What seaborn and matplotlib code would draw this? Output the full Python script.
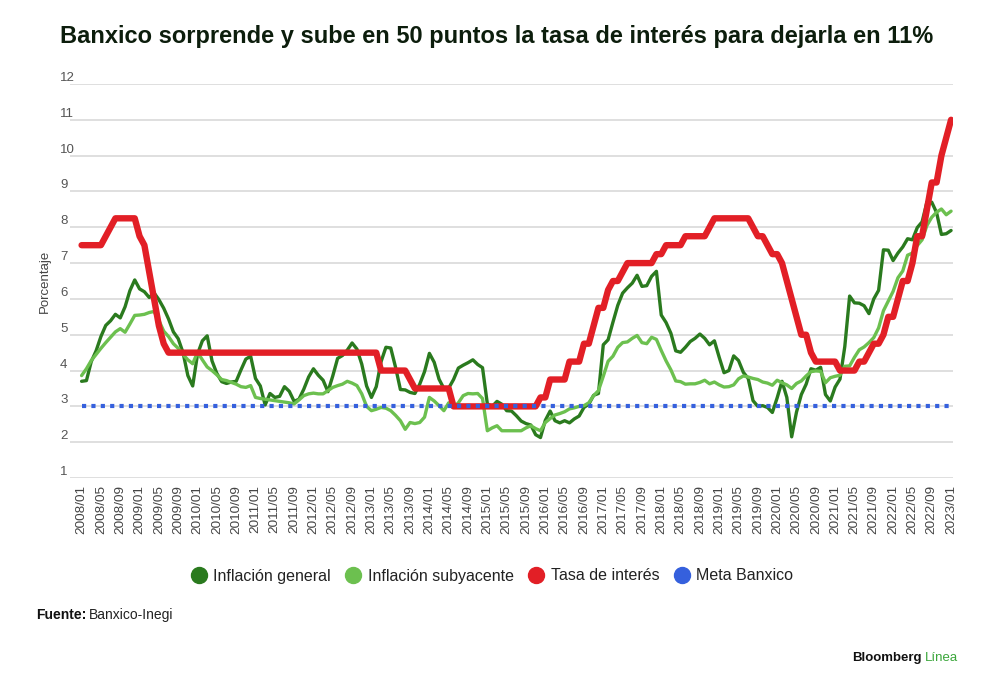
import numpy as np
import pandas as pd
import matplotlib
matplotlib.use("Agg")
import matplotlib.pyplot as plt
import seaborn as sns
from matplotlib.lines import Line2D

# ---------------- data ----------------
months = pd.date_range("2008-01-01", "2023-01-01", freq="MS")
month_labels = [d.strftime("%Y/%m") for d in months]

inflacion_general = [
    3.70, 3.72, 4.25, 4.55, 4.95, 5.26, 5.39, 5.57, 5.47, 5.78, 6.23, 6.53,
    6.28, 6.20, 6.04, 6.17, 5.98, 5.74, 5.44, 5.08, 4.89, 4.50, 3.86, 3.57,
    4.46, 4.83, 4.97, 4.27, 3.92, 3.69, 3.64, 3.68, 3.70, 4.02, 4.32, 4.40,
    3.78, 3.57, 3.04, 3.36, 3.25, 3.28, 3.55, 3.42, 3.14, 3.20, 3.48, 3.82,
    4.05, 3.87, 3.73, 3.41, 3.85, 4.34, 4.42, 4.57, 4.77, 4.60, 4.18, 3.57,
    3.25, 3.55, 4.25, 4.65, 4.63, 4.09, 3.47, 3.46, 3.39, 3.36, 3.62, 3.97,
    4.48, 4.23, 3.76, 3.50, 3.51, 3.75, 4.07, 4.15, 4.22, 4.30, 4.17, 4.08,
    3.07, 3.00, 3.14, 3.06, 2.88, 2.87, 2.74, 2.59, 2.52, 2.48, 2.21, 2.13,
    2.61, 2.87, 2.60, 2.54, 2.60, 2.54, 2.65, 2.73, 2.97, 3.06, 3.31, 3.36,
    4.72, 4.86, 5.35, 5.82, 6.16, 6.31, 6.44, 6.66, 6.35, 6.37, 6.63, 6.77,
    5.55, 5.34, 5.04, 4.55, 4.51, 4.65, 4.81, 4.90, 5.02, 4.90, 4.72, 4.83,
    4.37, 3.94, 4.00, 4.41, 4.28, 3.95, 3.78, 3.16, 3.00, 3.02, 2.97, 2.83,
    3.24, 3.70, 3.25, 2.15, 2.84, 3.33, 3.62, 4.05, 4.01, 4.09, 3.33, 3.15,
    3.54, 3.76, 4.67, 6.08, 5.89, 5.88, 5.81, 5.59, 6.00, 6.24, 7.37, 7.36,
    7.07, 7.28, 7.45, 7.68, 7.65, 7.99, 8.15, 8.70, 8.70, 8.41, 7.80, 7.82,
    7.91,
]

inflacion_subyacente = [
    3.86, 4.05, 4.28, 4.45, 4.62, 4.78, 4.93, 5.08, 5.17, 5.07, 5.30, 5.54,
    5.55, 5.57, 5.62, 5.65, 5.40, 5.10, 4.95, 4.75, 4.62, 4.45, 4.30, 4.19,
    4.51, 4.30, 4.10, 4.00, 3.88, 3.75, 3.72, 3.67, 3.62, 3.55, 3.53, 3.58,
    3.25, 3.22, 3.20, 3.18, 3.16, 3.14, 3.12, 3.10, 3.07, 3.18, 3.30, 3.35,
    3.37, 3.35, 3.35, 3.44, 3.53, 3.58, 3.62, 3.70, 3.65, 3.58, 3.35, 3.00,
    2.88, 2.92, 2.97, 2.95, 2.88, 2.75, 2.60, 2.36, 2.55, 2.52, 2.55, 2.70,
    3.25, 3.15, 3.02, 2.88, 3.10, 2.97, 3.10, 3.30, 3.36, 3.35, 3.36, 3.22,
    2.32, 2.40, 2.46, 2.32, 2.32, 2.32, 2.32, 2.32, 2.40, 2.46, 2.38, 2.32,
    2.55, 2.66, 2.76, 2.80, 2.85, 2.93, 2.96, 3.00, 3.02, 3.10, 3.30, 3.44,
    3.84, 4.26, 4.40, 4.65, 4.78, 4.80, 4.90, 4.98, 4.78, 4.75, 4.93, 4.87,
    4.56, 4.27, 4.02, 3.71, 3.69, 3.62, 3.63, 3.63, 3.67, 3.73, 3.63, 3.68,
    3.60, 3.54, 3.55, 3.60, 3.77, 3.85, 3.82, 3.78, 3.75, 3.68, 3.65, 3.59,
    3.73, 3.66, 3.60, 3.50, 3.64, 3.71, 3.85, 3.97, 3.99, 3.98, 3.66, 3.80,
    3.84, 3.87, 4.12, 4.13, 4.37, 4.58, 4.66, 4.78, 4.92, 5.19, 5.67, 5.94,
    6.21, 6.59, 6.78, 7.22, 7.28, 7.49, 7.65, 8.05, 8.28, 8.42, 8.51, 8.35,
    8.45,
]

tasa_interes = [
    7.50, 7.50, 7.50, 7.50, 7.50, 7.75, 8.00, 8.25, 8.25, 8.25, 8.25, 8.25,
    7.75, 7.50, 6.75, 6.00, 5.25, 4.75, 4.50, 4.50, 4.50, 4.50, 4.50, 4.50,
    4.50, 4.50, 4.50, 4.50, 4.50, 4.50, 4.50, 4.50, 4.50, 4.50, 4.50, 4.50,
    4.50, 4.50, 4.50, 4.50, 4.50, 4.50, 4.50, 4.50, 4.50, 4.50, 4.50, 4.50,
    4.50, 4.50, 4.50, 4.50, 4.50, 4.50, 4.50, 4.50, 4.50, 4.50, 4.50, 4.50,
    4.50, 4.50, 4.00, 4.00, 4.00, 4.00, 4.00, 4.00, 3.75, 3.50, 3.50, 3.50,
    3.50, 3.50, 3.50, 3.50, 3.50, 3.00, 3.00, 3.00, 3.00, 3.00, 3.00, 3.00,
    3.00, 3.00, 3.00, 3.00, 3.00, 3.00, 3.00, 3.00, 3.00, 3.00, 3.00, 3.25,
    3.25, 3.75, 3.75, 3.75, 3.75, 4.25, 4.25, 4.25, 4.75, 4.75, 5.25, 5.75,
    5.75, 6.25, 6.50, 6.50, 6.75, 7.00, 7.00, 7.00, 7.00, 7.00, 7.00, 7.25,
    7.25, 7.50, 7.50, 7.50, 7.50, 7.75, 7.75, 7.75, 7.75, 7.75, 8.00, 8.25,
    8.25, 8.25, 8.25, 8.25, 8.25, 8.25, 8.25, 8.00, 7.75, 7.75, 7.50, 7.25,
    7.25, 7.00, 6.50, 6.00, 5.50, 5.00, 5.00, 4.50, 4.25, 4.25, 4.25, 4.25,
    4.25, 4.00, 4.00, 4.00, 4.00, 4.25, 4.25, 4.50, 4.75, 4.75, 5.00, 5.50,
    5.50, 6.00, 6.50, 6.50, 7.00, 7.75, 7.75, 8.50, 9.25, 9.25, 10.00, 10.50,
    11.00,
]

meta_banxico = [3.0] * len(months)

series_names = ["Inflación general", "Inflación subyacente", "Tasa de interés", "Meta Banxico"]
y_ticks = list(range(1, 13))

# ---------------- style ----------------
sns.set_theme(style="white")
plt.rcParams["font.family"] = ["Liberation Sans", "DejaVu Sans"]

c_general = "#2a7a1e"
c_suby = "#6cc04f"
c_tasa = "#e21f26"
c_meta = "#3560dd"

df = pd.DataFrame({
    "idx": np.arange(len(months)),
    "general": inflacion_general,
    "suby": inflacion_subyacente,
    "tasa": tasa_interes,
    "meta": meta_banxico,
})

fig = plt.figure(figsize=(10, 6.9), dpi=100)
ax = fig.add_axes([0.07, 0.3072, 0.883, 0.5711])

sns.lineplot(data=df, x="idx", y="general", color=c_general, lw=2.4, ax=ax, zorder=3)
sns.lineplot(data=df, x="idx", y="suby", color=c_suby, lw=2.4, ax=ax, zorder=3)
sns.lineplot(data=df, x="idx", y="tasa", color=c_tasa, lw=4.6, ax=ax, zorder=4)
sns.lineplot(data=df, x="idx", y="meta", color=c_meta, lw=3.0, ax=ax, zorder=5,
             linestyle=(0, (1, 1.25)), dash_capstyle="butt")

ax.set_xlim(-2.4, 180.4)
ax.set_ylim(1, 12)
ax.set_yticks(y_ticks)
ax.set_yticklabels([str(v) for v in y_ticks])
tick_pos = list(range(0, len(months), 4))
ax.set_xticks(tick_pos)
ax.set_xticklabels([month_labels[i] for i in tick_pos], rotation=90)
ax.grid(axis="y", color="#d6d6d6", lw=1.1)
ax.grid(axis="x", visible=False)
ax.set_axisbelow(True)
for s in ax.spines.values():
    s.set_visible(False)
ax.set_xlabel("")
ax.set_ylabel("")
ax.tick_params(axis="x", length=0, pad=5, labelsize=9.7, labelcolor="#444444")
ax.tick_params(axis="y", length=0, pad=7.2, labelsize=9.5, labelcolor="#555555")
for lbl in ax.get_yticklabels():
    lbl.set_horizontalalignment("left")
    lbl.set_verticalalignment("bottom")

fig.text(0.045, 0.5928, "Porcentaje", rotation=90, ha="center", va="center",
         fontsize=9.5, color="#444444")

fig.text(0.06, 1 - 36 / 690, "Banxico sorprende y sube en 50 puntos la tasa de interés para dejarla en 11%",
         ha="left", va="center", fontsize=17, fontweight="bold", color="#0c1d0c")

handles = [
    Line2D([], [], marker="o", ls="", markersize=11.5, color=c_general),
    Line2D([], [], marker="o", ls="", markersize=11.5, color=c_suby),
    Line2D([], [], marker="o", ls="", markersize=11.5, color=c_tasa),
    Line2D([], [], marker="o", ls="", markersize=11.5, color=c_meta),
]
fig.legend(handles, series_names, loc="center", bbox_to_anchor=(0.492, 1 - 576 / 690),
           ncol=4, frameon=False, handletextpad=0.4, columnspacing=0.9, handlelength=1.0,
           prop={"size": 11.5}, labelcolor="#222222")

renderer = fig.canvas.get_renderer()
t1 = fig.text(0.036, 1 - 615 / 690, "Fuente:", ha="left", va="center", fontsize=10,
              fontweight="bold", color="#111111")
bb = t1.get_window_extent(renderer)
fig.text(bb.x1 / 1000 + 0.002, 1 - 615 / 690, "Banxico-Inegi", ha="left", va="center",
         fontsize=10, color="#222222")

t2 = fig.text(0.958, 1 - 658 / 690, "Línea", ha="right", va="center", fontsize=9.5,
              color="#3aa63a")
bb2 = t2.get_window_extent(renderer)
fig.text(bb2.x0 / 1000 - 0.003, 1 - 658 / 690, "Bloomberg", ha="right", va="center",
         fontsize=9.5, fontweight="bold", color="#111111")

fig.savefig("out.png", dpi=100, facecolor="white")
